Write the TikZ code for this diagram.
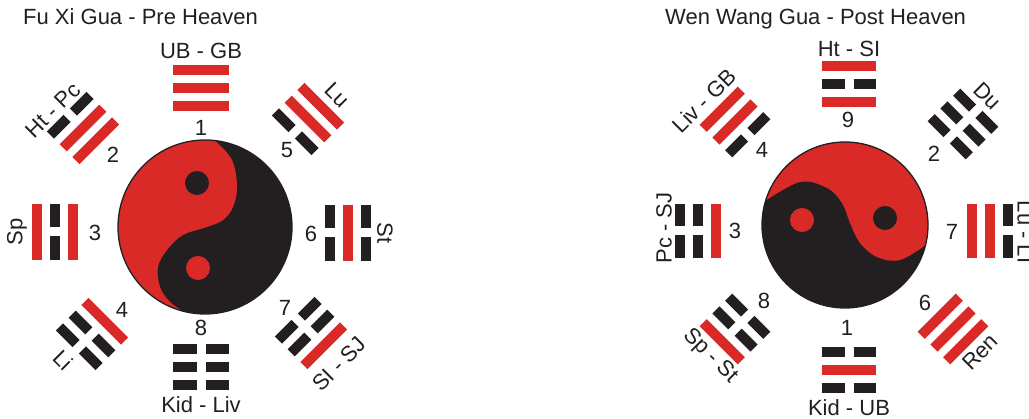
\documentclass[tikz,border=0pt]{standalone}
\usepackage{fontspec}
\setmainfont{Liberation Sans}
\definecolor{tred}{RGB}{218,42,40}
\definecolor{tblk}{RGB}{35,31,32}
\def\trihl{28}
\newcommand\ySol[1]{\fill[tred] (-\trihl,#1-5) rectangle (\trihl,#1+5);}
\newcommand\yBrk[1]{\fill[tblk] (-\trihl,#1-5) rectangle (-4.5,#1+5); \fill[tblk] (4.5,#1-5) rectangle (\trihl,#1+5);}
\newcommand\trig[6]{\begin{scope}[shift={(#1,#2)},rotate=#3] #4{-18} #5{0} #6{18}\end{scope}}
\tikzset{lab/.style={font=\fontsize{22}{26}\selectfont, inner sep=0pt, text=tblk}}
\begin{document}
\begin{tikzpicture}[x=1pt,y=1pt]
\useasboundingbox (0,0) rectangle (1029,419);
% ---------- left: Fu Xi ----------
\node[lab,anchor=base west] (t1) at (23,394) {Fu Xi Gua - Pre Heaven};
\begin{scope}[shift={(205,192)}]
\fill[tblk] (0,0) circle (87);
\fill[tred] plot[smooth,tension=0.6] coordinates {(83.4:87) (27,67) (32,40) (28,20) (18,7) (2,0) (-22,-8) (-38,-23) (-47,-40) (-45,-60) (-35,-75) (255.5:87)} arc[start angle=255.5,end angle=83.4,radius=87] -- cycle;
\fill[tblk] (-8,44) circle (12);
\fill[tred] (-7,-41) circle (12);
\draw[tblk,line width=1.3] (0,0) circle (87);
\end{scope}
\trig{201}{331}{0}{\ySol}{\ySol}{\ySol}
\trig{83}{291}{45}{\ySol}{\ySol}{\yBrk}
\trig{55}{187}{90}{\ySol}{\yBrk}{\ySol}
\trig{92}{85}{135}{\ySol}{\yBrk}{\yBrk}
\trig{308}{300}{-45}{\yBrk}{\ySol}{\ySol}
\trig{348}{186}{-90}{\yBrk}{\ySol}{\yBrk}
\trig{311}{86}{-135}{\yBrk}{\yBrk}{\ySol}
\trig{201}{52}{180}{\yBrk}{\yBrk}{\yBrk}
\node[lab] (a1) at (201,368) {UB - GB};
\node[lab] (n1) at (201,291.5) {1};
\node[lab,rotate=45] (a2) at (53,309) {Ht - Pc};
\node[lab] (n2) at (113,264) {2};
\node[lab,rotate=-45] (a5) at (337,324) {Lu};
\node[lab] (n5) at (287,269) {5};
\node[lab,rotate=90] (a3) at (17,187) {Sp};
\node[lab] (n3) at (95,186) {3};
\node[lab] (n6) at (311,185) {6};
\node[lab,rotate=-90] (a6) at (385,186) {St};
\node[lab] (n4) at (122,109) {4};
\node[lab,rotate=-45] (a4) at (63,59) {Li};
\node[lab] (n7) at (285,111) {7};
\node[lab,rotate=45] (a7) at (339,55) {SI - SJ};
\node[lab] (n8) at (201,91) {8};
\node[lab] (a8) at (201,14) {Kid - Liv};
% ---------- right: Wen Wang ----------
\node[lab,anchor=base west] (t2) at (665,394) {Wen Wang Gua - Post Heaven};
\begin{scope}[shift={(845,194)}]
\fill[tblk] (0,0) circle (83);
\fill[tred] plot[smooth,tension=0.6] coordinates {(163:83) (-45,43) (-18,37) (-3,22) (5,2) (15,-18) (32,-32) (55,-35) (-14:83)} arc[start angle=-14,end angle=163,radius=83] -- cycle;
\fill[tred] (-43,5) circle (12);
\fill[tblk] (40,7) circle (12);
\draw[tblk,line width=1.3] (0,0) circle (83);
\end{scope}
\def\trihl{27}
\trig{849}{335}{0}{\ySol}{\yBrk}{\ySol}
\trig{735}{297}{45}{\yBrk}{\ySol}{\ySol}
\trig{963}{295}{-45}{\yBrk}{\yBrk}{\yBrk}
\trig{698}{188}{90}{\ySol}{\yBrk}{\yBrk}
\trig{990}{188}{-90}{\ySol}{\ySol}{\yBrk}
\trig{735}{90}{135}{\yBrk}{\yBrk}{\ySol}
\trig{953}{90}{-135}{\ySol}{\ySol}{\ySol}
\trig{849}{49}{180}{\yBrk}{\ySol}{\yBrk}
\node[lab] (b9) at (849,370.5) {Ht - SI};
\node[lab] (m9) at (848,299) {9};
\node[lab,rotate=45] (b4) at (704,318) {Liv - GB};
\node[lab] (m4) at (762,269) {4};
\node[lab,rotate=-45] (b2) at (987,323) {Du};
\node[lab] (m2) at (934,265) {2};
\node[lab,rotate=90] (b3) at (664,191) {Pc - SJ};
\node[lab] (m3) at (735,188) {3};
\node[lab] (m7) at (952,187) {7};
\node[lab,rotate=-90] (b7) at (1025,187) {Lu - LI};
\node[lab] (m8) at (764,118) {8};
\node[lab,rotate=-45] (b8) at (710,63) {Sp - St};
\node[lab] (m6) at (925,116) {6};
\node[lab,rotate=45] (b6) at (980,67) {Ren};
\node[lab] (m1) at (847,91) {1};
\node[lab] (b1) at (849,11) {Kid - UB};
\end{tikzpicture}
\end{document}
